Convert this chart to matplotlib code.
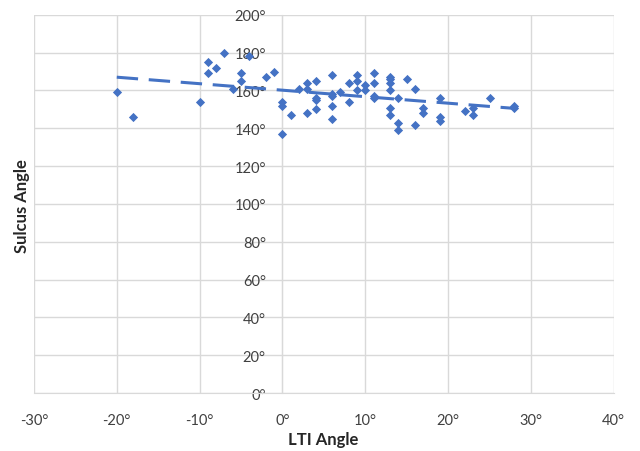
import matplotlib.pyplot as plt
import numpy as np

plt.rcParams['font.family'] = ['Lato', 'DejaVu Sans']

# LTI angle (deg) vs sulcus angle (deg)
lti = [-20, -18, -10, -9, -9, -8, -7, -6, -5, -5, -4, -2, -1,
       0, 0, 0, 1, 2, 3, 3, 3, 4, 4, 4, 4,
       6, 6, 6, 6, 6, 7, 8, 8, 9, 9, 9, 10, 10,
       11, 11, 11, 11, 13, 13, 13, 13, 13, 13,
       14, 14, 14, 15, 16, 16, 17, 17, 19, 19, 19,
       22, 23, 23, 25, 28, 28]
sulcus = [159, 146, 154, 175, 169, 172, 180, 161, 169, 165, 178, 167, 170,
          154, 152, 137, 147, 161, 164, 161, 148, 165, 156, 155, 150,
          168, 158, 157, 152, 145, 159, 164, 154, 168, 165, 160, 163, 160,
          169, 164, 157, 156, 167, 166, 164, 160, 151, 147,
          156, 143, 139, 166, 161, 142, 151, 148, 156, 146, 144,
          149, 151, 147, 156, 152, 151]

x_ticks = [-30, -20, -10, 0, 10, 20, 30, 40]
y_ticks = [0, 20, 40, 60, 80, 100, 120, 140, 160, 180, 200]

blue = '#4472C4'
grid_c = '#D9D9D9'

fig = plt.figure(figsize=(6.4, 4.52), dpi=100)
ax = fig.add_axes([0.053, 0.128, 0.906, 0.837])

ax.scatter(lti, sulcus, marker='D', s=22, color=blue, zorder=3, linewidths=0)

# linear trendline over the data range
k, b = np.polyfit(lti, sulcus, 1)
xs = np.array([min(lti), max(lti)])
ax.plot(xs, k * xs + b, color=blue, lw=2.2, dashes=(7, 3.5), zorder=2)

ax.set_xlim(-30, 40)
ax.set_ylim(0, 200)
ax.set_xticks(x_ticks)
ax.set_yticks(y_ticks)
ax.set_xticklabels([f'{v}°' for v in x_ticks])
ax.set_yticklabels([f'{v}°' for v in y_ticks])

ax.grid(True, color=grid_c, lw=1)
ax.set_axisbelow(True)
for s in ['top', 'right']:
    ax.spines[s].set_visible(False)
ax.spines['left'].set_position(('data', 0))
ax.spines['left'].set_color(grid_c)
ax.spines['bottom'].set_color(grid_c)
ax.spines['left'].set_zorder(1)
ax.tick_params(axis='both', length=0, labelsize=10.5, colors='#404040')
ax.tick_params(axis='x', pad=14)
ax.tick_params(axis='y', pad=12)

fig.text(0.505, 0.026, 'LTI Angle', ha='center', va='center',
         fontsize=12, fontweight='bold', color='#262626')
fig.text(0.035, 0.545, 'Sulcus Angle', ha='center', va='center',
         rotation=90, fontsize=12, fontweight='bold', color='#262626')

fig.savefig('out.png', dpi=100)
